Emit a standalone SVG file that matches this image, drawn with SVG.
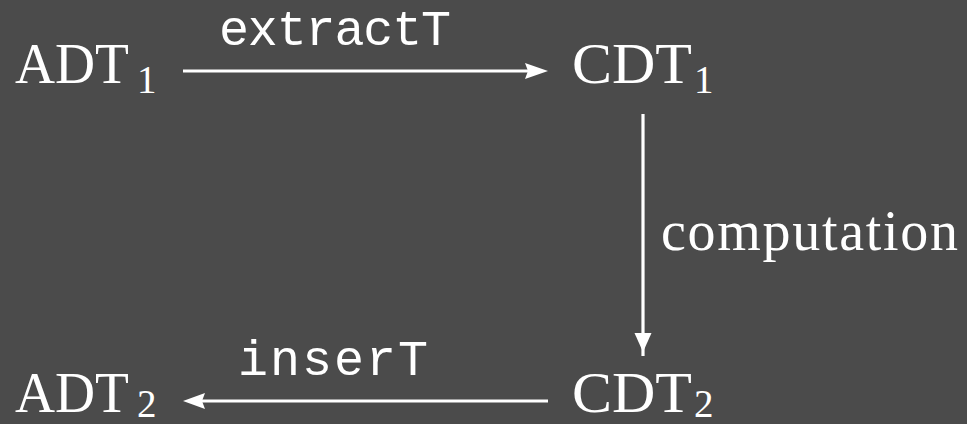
<svg xmlns="http://www.w3.org/2000/svg" width="967" height="424" viewBox="0 0 967 424">
  <style>
    .math { font-family: "Liberation Serif", "Times New Roman", serif; font-size: 56px; fill: #ffffff; }
    .sub { font-family: "Liberation Serif", "Times New Roman", serif; font-size: 39px; fill: #ffffff; }
    .tt { font-family: "Liberation Mono", "Courier New", monospace; font-size: 50px; fill: #ffffff; }
    .edge { stroke: #ffffff; stroke-width: 3.2; fill: none; }
    .head { fill: #ffffff; stroke: none; }
  </style>
  <rect width="967" height="424" fill="#4b4b4b"/>

  <g id="adt1">
    <text class="math" x="15" y="83" textLength="114" lengthAdjust="spacingAndGlyphs">ADT</text>
    <text class="sub" x="137" y="93">1</text>
  </g>
  <g id="cdt1">
    <text class="math" x="572" y="83" textLength="120" lengthAdjust="spacingAndGlyphs">CDT</text>
    <text class="sub" x="694" y="93">1</text>
  </g>
  <g id="cdt2">
    <text class="math" x="572" y="412" textLength="120" lengthAdjust="spacingAndGlyphs">CDT</text>
    <text class="sub" x="694" y="417">2</text>
  </g>
  <g id="adt2">
    <text class="math" x="15" y="412" textLength="114" lengthAdjust="spacingAndGlyphs">ADT</text>
    <text class="sub" x="137" y="417">2</text>
  </g>

  <g id="connectors">
    <!-- extractT: ADT1 -> CDT1 -->
    <line class="edge" x1="183" y1="71" x2="528" y2="71"/>
    <polygon class="head" points="525,63 548,71 525,79 528,71"/>
    <text class="tt" x="219" y="45" textLength="232" lengthAdjust="spacing">extractT</text>

    <!-- computation: CDT1 -> CDT2 -->
    <line class="edge" x1="643" y1="114" x2="643" y2="356" stroke-width="4"/>
    <polygon class="head" points="634.5,333 651.5,333 643,352"/>
    <text class="math" x="661" y="250" textLength="297" lengthAdjust="spacing">computation</text>

    <!-- inserT: CDT2 -> ADT2 -->
    <line class="edge" x1="548" y1="401" x2="202" y2="401"/>
    <polygon class="head" points="205,393 183,401 205,409 202,401"/>
    <text class="tt" x="238" y="375" textLength="190" lengthAdjust="spacing">inserT</text>
  </g>
</svg>
